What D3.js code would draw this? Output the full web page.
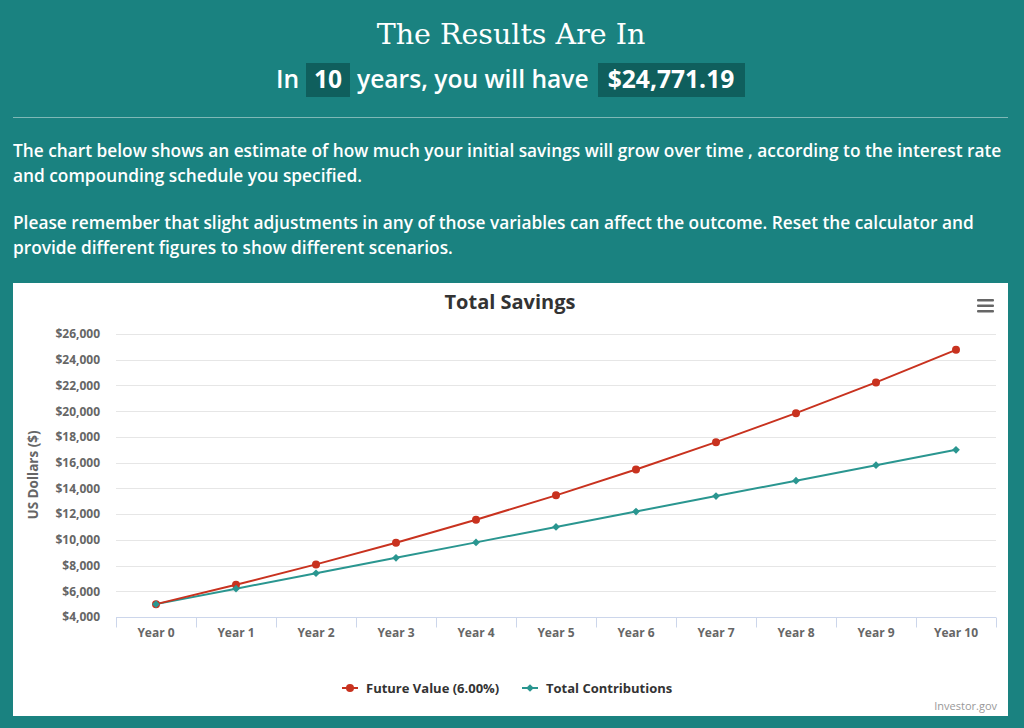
<!DOCTYPE html>
<html>
<head>
<meta charset="utf-8">
<script src="https://cdn.jsdelivr.net/npm/d3@7"></script>
<style>
  html, body { margin: 0; padding: 0; background: #1a8280; }
  svg { display: block; }
</style>
</head>
<body>
<svg id="page" width="1024" height="728"></svg>
<script>
// chart values
const years = ["Year 0", "Year 1", "Year 2", "Year 3", "Year 4", "Year 5", "Year 6", "Year 7", "Year 8", "Year 9", "Year 10"];
const futureValue = [5000, 6500, 8090, 9775.4, 11561.92, 13455.64, 15462.98, 17590.76, 19846.21, 22236.98, 24771.19];
const contributions = [5000, 6200, 7400, 8600, 9800, 11000, 12200, 13400, 14600, 15800, 17000];
const yTicks = [4000, 6000, 8000, 10000, 12000, 14000, 16000, 18000, 20000, 22000, 24000, 26000];
const seriesNames = ["Future Value (6.00%)", "Total Contributions"];

const red = "#c8321f", teal = "#2a9690";
const font = "'Open Sans', sans-serif";

const svg = d3.select("#page");

// header
svg.append("text")
  .attr("x", 511).attr("y", 44)
  .attr("text-anchor", "middle")
  .attr("font-family", "'DejaVu Serif', serif")
  .attr("font-size", 28.5)
  .attr("fill", "#fff")
  .text("The Results Are In");

const sub = svg.append("g").attr("font-family", font).attr("font-size", 24.6).attr("fill", "#fff");
sub.append("rect").attr("x", 306).attr("y", 63).attr("width", 44).attr("height", 34).attr("fill", "#0f5f5d");
sub.append("rect").attr("x", 598).attr("y", 63).attr("width", 147).attr("height", 34).attr("fill", "#0f5f5d");
sub.append("text").attr("x", 276).attr("y", 88).attr("font-weight", 600).text("In");
sub.append("text").attr("x", 328).attr("y", 88).attr("text-anchor", "middle").attr("font-weight", 700).text("10");
sub.append("text").attr("x", 357).attr("y", 88).attr("font-weight", 600).text("years, you will have");
sub.append("text").attr("x", 671).attr("y", 88).attr("text-anchor", "middle").attr("font-weight", 700).text("$24,771.19");

svg.append("line")
  .attr("x1", 13).attr("x2", 1008).attr("y1", 117.5).attr("y2", 117.5)
  .attr("stroke", "#7fb8b6").attr("stroke-width", 1);

const paras = [
  ["The chart below shows an estimate of how much your initial savings will grow over time , according to the interest rate", 157],
  ["and compounding schedule you specified.", 182],
  ["Please remember that slight adjustments in any of those variables can affect the outcome. Reset the calculator and", 229],
  ["provide different figures to show different scenarios.", 254]
];
svg.append("g")
  .selectAll("text")
  .data(paras)
  .join("text")
  .attr("x", 13)
  .attr("y", d => d[1])
  .attr("font-family", font)
  .attr("font-size", 17.3)
  .attr("font-weight", 600)
  .attr("fill", "#fff")
  .text(d => d[0]);

// chart box
svg.append("rect")
  .attr("x", 13).attr("y", 283).attr("width", 995).attr("height", 433)
  .attr("fill", "#fff");

svg.append("text")
  .attr("x", 510).attr("y", 309)
  .attr("text-anchor", "middle")
  .attr("font-family", font).attr("font-size", 20).attr("font-weight", 700)
  .attr("fill", "#333")
  .text("Total Savings");

// menu icon
svg.append("g")
  .selectAll("rect")
  .data([0, 1, 2])
  .join("rect")
  .attr("x", 977).attr("y", d => 299 + d * 5.5)
  .attr("width", 17).attr("height", 2.6).attr("rx", 1)
  .attr("fill", "#666");

const x = d3.scaleBand().domain(years).range([116, 996]).padding(0);
const y = d3.scaleLinear().domain([4000, 26000]).range([617, 334]);
const cx = d => x(d) + x.bandwidth() / 2;

// grid
svg.append("g")
  .selectAll("line")
  .data(yTicks.filter(t => t > 4000))
  .join("line")
  .attr("x1", 116).attr("x2", 996)
  .attr("y1", d => Math.round(y(d)) + 0.5).attr("y2", d => Math.round(y(d)) + 0.5)
  .attr("stroke", "#e6e6e6");

// y axis
const yAxis = svg.append("g")
  .attr("transform", "translate(100,0)")
  .call(d3.axisLeft(y).tickValues(yTicks).tickSize(0).tickPadding(0).tickFormat(d => "$" + d3.format(",")(d)));
yAxis.select(".domain").remove();
yAxis.selectAll("text")
  .attr("font-family", font).attr("font-size", 12).attr("font-weight", 700)
  .attr("fill", "#666");

svg.append("text")
  .attr("transform", "translate(38,475) rotate(-90)")
  .attr("text-anchor", "middle")
  .attr("font-family", font).attr("font-size", 13.5).attr("font-weight", 700)
  .attr("fill", "#666")
  .text("US Dollars ($)");

// x axis
const xAxis = svg.append("g")
  .attr("transform", "translate(0,617.5)")
  .call(d3.axisBottom(x).tickSize(0).tickPadding(11));
xAxis.select(".domain").attr("stroke", "#ccd6eb").attr("d", "M116,0H996");
xAxis.selectAll("text")
  .attr("font-family", font).attr("font-size", 12).attr("font-weight", 700)
  .attr("fill", "#666");
xAxis.selectAll(".bound")
  .data(years.map(d => x(d)).concat([996]))
  .join("line")
  .attr("class", "bound")
  .attr("x1", d => Math.round(d) + 0.5).attr("x2", d => Math.round(d) + 0.5)
  .attr("y1", 0).attr("y2", 10)
  .attr("stroke", "#ccd6eb");

// lines
const line = d3.line().x((d, i) => cx(years[i])).y(d => y(d));

svg.append("path").datum(contributions)
  .attr("d", line).attr("fill", "none").attr("stroke", teal).attr("stroke-width", 2);
svg.append("path").datum(futureValue)
  .attr("d", line).attr("fill", "none").attr("stroke", red).attr("stroke-width", 2);

const diamond = d3.symbol().type(d3.symbolDiamond2 || d3.symbolDiamond).size(38);

svg.append("g")
  .selectAll("circle")
  .data(futureValue)
  .join("circle")
  .attr("cx", (d, i) => cx(years[i])).attr("cy", d => y(d))
  .attr("r", 4).attr("fill", red);

svg.append("g")
  .selectAll("path")
  .data(contributions)
  .join("path")
  .attr("d", diamond)
  .attr("transform", (d, i) => `translate(${cx(years[i])},${y(d)})`)
  .attr("fill", teal);

// legend
const legend = svg.append("g").attr("font-family", font).attr("font-size", 13).attr("font-weight", 700);
const items = [
  { name: seriesNames[0], color: red, x0: 342, marker: "circle" },
  { name: seriesNames[1], color: teal, x0: 522, marker: "diamond" }
];
items.forEach(it => {
  const g = legend.append("g").attr("transform", `translate(${it.x0},688)`);
  g.append("line").attr("x1", 0).attr("x2", 16).attr("stroke", it.color).attr("stroke-width", 2);
  if (it.marker === "circle") {
    g.append("circle").attr("cx", 8).attr("r", 4).attr("fill", it.color);
  } else {
    g.append("path").attr("d", diamond).attr("transform", "translate(8,0)").attr("fill", it.color);
  }
  g.append("text").attr("x", 24).attr("y", 4.5).attr("fill", "#333").text(it.name);
});

// credits
svg.append("text")
  .attr("x", 997).attr("y", 710)
  .attr("text-anchor", "end")
  .attr("font-family", font).attr("font-size", 11)
  .attr("fill", "#999")
  .text("Investor.gov");
</script>
</body>
</html>
